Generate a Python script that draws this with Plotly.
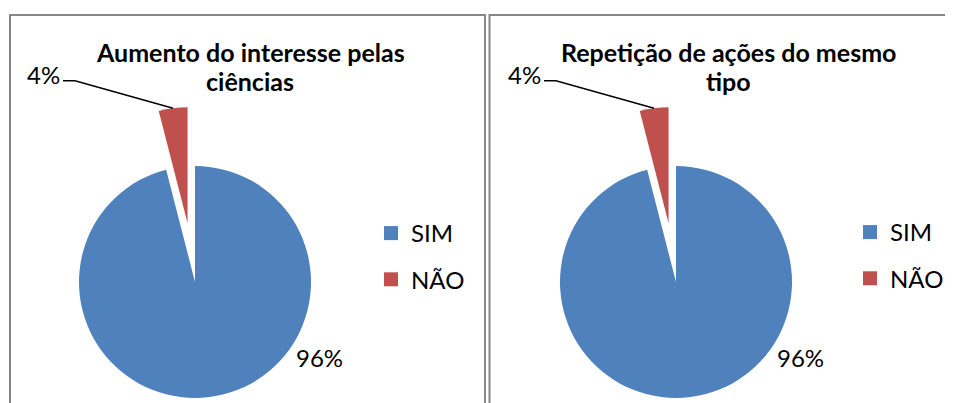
import math
import plotly.graph_objects as go

# ---- data ----
labels = ["SIM", "NÃO"]
title_interesse = ["Aumento do interesse pelas", "ciências"]
title_repeticao = ["Repetição de ações do mesmo", "tipo"]
values_interesse = [96, 4]
values_repeticao = [96, 4]
pulls = [0, 0.51]
colors = ["#4F81BD", "#C0504D"]

# ---- layout constants (target pixels in the window) ----
OFF = 8                      # page body margin
W, H = 953, 460
R = 116
CY = 282
centers_x = [195, 676]
panel_left = [10, 489.5]
panel_right = [485, 975]
panel_top = 15
title_x = [250, 728]
title_line_y = [52, 81]
legend_left = [371, 850]
legend_top = [211, 210]
FONT = "Lato"
FS = 24


def px(x):
    return (x - OFF) / W


def py(y):
    return 1 - (y - OFF) / H


fig = go.Figure()
annotations = []
shapes = []

panels = [(title_interesse, values_interesse, "legend"),
          (title_repeticao, values_repeticao, "legend2")]

for i, (title_lines, vals, leg) in enumerate(panels):
    cx = centers_x[i]
    half = R * (1 + max(pulls))
    fig.add_trace(go.Pie(
        labels=labels, values=vals, pull=pulls, sort=False,
        direction="clockwise", rotation=0,
        marker=dict(colors=colors, line=dict(width=0)),
        textinfo="none", hoverinfo="label+percent",
        domain=dict(x=[px(cx - half), px(cx + half)],
                    y=[max(0, py(CY + half)), py(CY - half)]),
        showlegend=False,
    ))

    # legend entries (one group per label so the group gap spaces them)
    for lab, col in zip(labels, colors):
        fig.add_trace(go.Scatter(
            x=[None], y=[None], mode="markers", name=lab,
            marker=dict(symbol="square", size=14, color=col, line=dict(width=0)),
            legend=leg, legendgroup=f"{leg}-{lab}", showlegend=True,
            hoverinfo="skip",
        ))

    # panel border
    shapes.append(dict(type="rect", xref="paper", yref="paper",
                       x0=px(panel_left[i]), x1=px(panel_right[i]),
                       y0=py(H + 40), y1=py(panel_top),
                       line=dict(color="#878787", width=2),
                       fillcolor="rgba(0,0,0,0)", layer="below"))

    # titles
    for ln, ty in zip(title_lines, title_line_y):
        annotations.append(dict(text=f"<b>{ln}</b>", x=px(title_x[i]), y=py(ty),
                                xref="paper", yref="paper", showarrow=False,
                                xanchor="center", yanchor="middle",
                                font=dict(family=FONT, size=25, color="#000")))

    total = sum(vals)
    # big slice label
    annotations.append(dict(text=f"{round(100 * vals[0] / total)}%",
                            x=px(cx + 124), y=py(357), xref="paper", yref="paper",
                            showarrow=False, xanchor="center", yanchor="middle",
                            font=dict(family=FONT, size=FS, color="#000")))

    # small slice label with leader line to outer mid-point of pulled slice
    start = 360 * vals[0] / total
    mid = math.radians(start + 180 * vals[1] / total)
    rr = R * (1 + pulls[1])
    ex, ey = cx + rr * math.sin(mid), CY - rr * math.cos(mid)
    annotations.append(dict(text=f"{round(100 * vals[1] / total)}%",
                            x=px(cx - 152), y=py(75), xref="paper", yref="paper",
                            showarrow=False, xanchor="center", yanchor="middle",
                            font=dict(family=FONT, size=FS, color="#000")))
    shapes.append(dict(type="path", xref="paper", yref="paper",
                       path=f"M {px(cx-132)},{py(80.7)} L {px(cx-120)},{py(80.7)} L {px(ex)},{py(ey)}",
                       line=dict(color="#000", width=1.5)))

leg_common = dict(xanchor="left", yanchor="top", traceorder="grouped",
                  tracegroupgap=12, bgcolor="rgba(0,0,0,0)", borderwidth=0,
                  font=dict(family=FONT, size=FS, color="#000"))

fig.update_layout(
    width=W, height=H,
    margin=dict(l=0, r=0, t=0, b=0),
    paper_bgcolor="white", plot_bgcolor="white",
    xaxis=dict(visible=False), yaxis=dict(visible=False),
    annotations=annotations, shapes=shapes,
    legend=dict(x=px(legend_left[0]), y=py(legend_top[0]), **leg_common),
    legend2=dict(x=px(legend_left[1]), y=py(legend_top[1]), **leg_common),
    hovermode=False,
)

fig.write_html("out.html")
